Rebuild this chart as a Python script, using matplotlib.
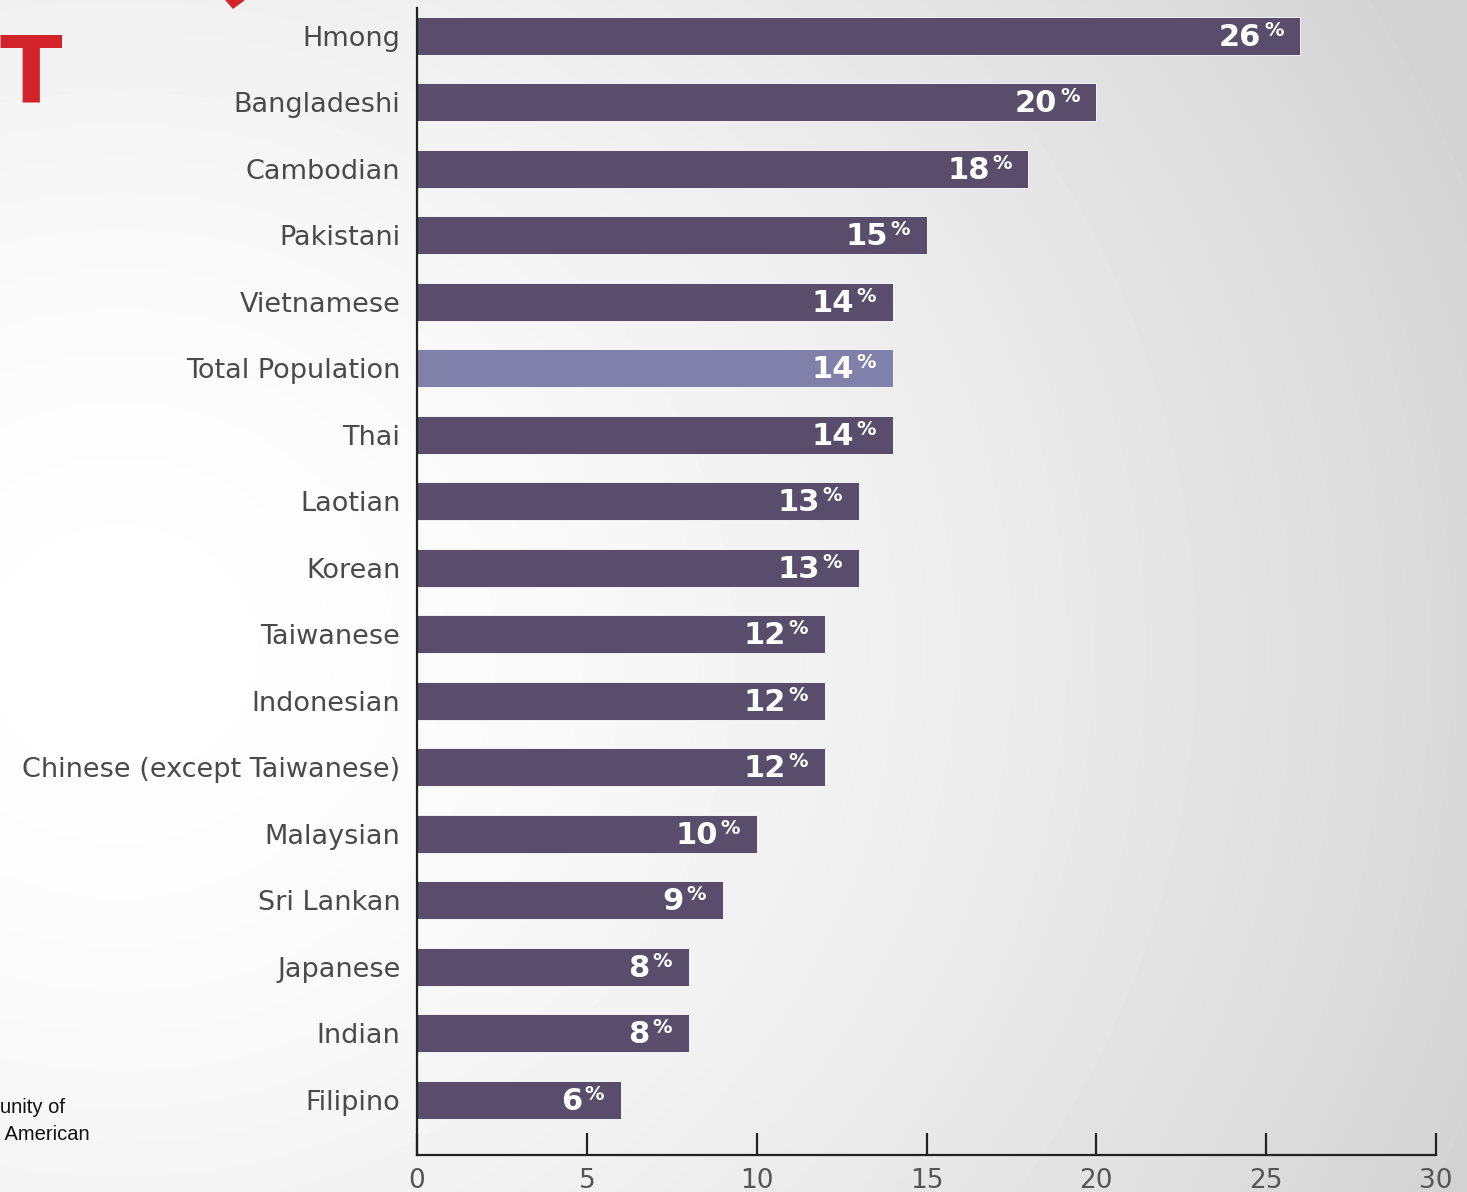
import numpy as np
import matplotlib.pyplot as plt
from matplotlib.patches import Polygon

# share of each group below the poverty line (%)
groups = ["Hmong", "Bangladeshi", "Cambodian", "Pakistani", "Vietnamese",
          "Total Population", "Thai", "Laotian", "Korean", "Taiwanese",
          "Indonesian", "Chinese (except Taiwanese)", "Malaysian", "Sri Lankan",
          "Japanese", "Indian", "Filipino"]
pct = [26, 20, 18, 15, 14, 14, 14, 13, 13, 12, 12, 12, 10, 9, 8, 8, 6]
xticks = [0, 5, 10, 15, 20, 25, 30]

dark = "#594d6c"
light = "#8080ab"
label_grey = "#4a4a4a"

W, H = 1467, 1192
fig = plt.figure(figsize=(W / 100, H / 100), dpi=100)

# soft radial background, white on the left fading to grey on the right
bg = fig.add_axes([0, 0, 1, 1])
yy, xx = np.mgrid[0:H, 0:W]
r = np.sqrt((xx - 120) ** 2 + ((yy - 650) * 1.1) ** 2)
shade = 1.0 - 0.17 * np.clip(r / 1450, 0, 1) ** 1.6
bg.imshow(shade, cmap="gray", vmin=0, vmax=1, extent=[0, W, H, 0], aspect="auto")
bg.set_xlim(0, W)
bg.set_ylim(H, 0)
bg.axis("off")

# red slide decorations
bg.text(0, 102, "T", color="#d2232a", fontsize=66, fontweight="bold",
        family="DejaVu Sans", ha="left", va="baseline")
bg.add_patch(Polygon([[226, 0], [244, 0], [233, 8]], closed=True, color="#d2232a"))
bg.text(0, 1113, "unity of", fontsize=14.5, family="Liberation Sans", color="#111111")
bg.text(0, 1140, " American", fontsize=14.5, family="Liberation Sans", color="#111111")

ax = fig.add_axes([417 / W, 1 - 1155 / H, (1436 - 417) / W, (1155 - 8) / H])
ax.patch.set_alpha(0)

y = np.arange(len(groups))[::-1]
colors = [light if g == "Total Population" else dark for g in groups]
ax.barh(y, pct, height=0.57, color=colors, edgecolor="#ffffff", linewidth=0.6)

for yi, v in zip(y, pct):
    ax.annotate(str(v), (v, yi), xytext=(-28, -1), textcoords="offset points",
                ha="right", va="center", color="white", fontsize=22,
                fontweight="bold")
    ax.annotate("%", (v, yi), xytext=(-12, 4), textcoords="offset points",
                ha="right", va="center", color="white", fontsize=14,
                fontweight="bold")

ax.set_xlim(0, 30)
ax.set_ylim(-0.83, 16.42)
ax.set_yticks(y)
ax.set_yticklabels(groups, fontsize=19.5, color=label_grey)
ax.set_xticks(xticks)
ax.set_xticklabels([str(t) for t in xticks], fontsize=19, color="#555555")

for s in ["top", "right"]:
    ax.spines[s].set_visible(False)
for s in ["left", "bottom"]:
    ax.spines[s].set_linewidth(1.6)
    ax.spines[s].set_color("#222222")

ax.tick_params(axis="y", length=0, pad=12)
ax.tick_params(axis="x", direction="in", length=16, width=1.6, color="#222222", pad=9)

fig.savefig("out.png", dpi=100)
